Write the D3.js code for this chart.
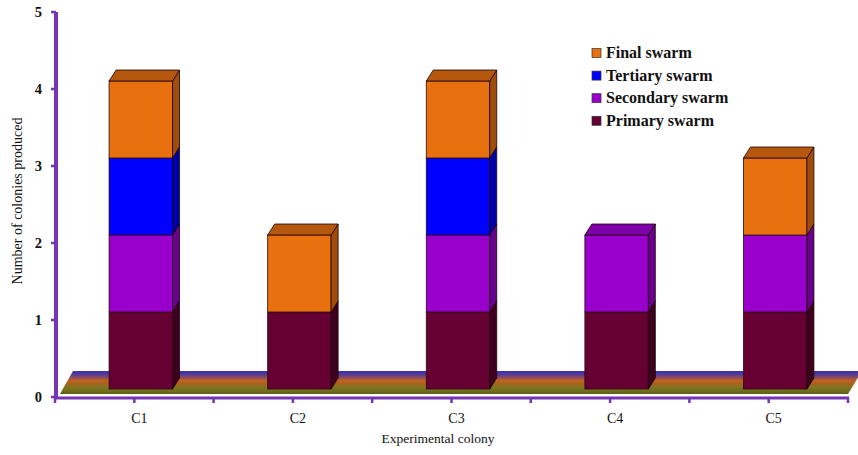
<!DOCTYPE html>
<html>
<head>
<meta charset="utf-8">
<script src="https://cdn.jsdelivr.net/npm/d3@7"></script>
<style>
  html, body { margin: 0; padding: 0; background: #fff; }
  svg { display: block; }
  text { font-family: "Liberation Serif", "Times New Roman", serif; fill: #111; }
</style>
</head>
<body>
<svg id="chart" width="858" height="455"></svg>
<script>
// Colonies produced by each experimental colony, per swarm type
const categories = ["C1", "C2", "C3", "C4", "C5"];
const seriesNames = ["Primary swarm", "Secondary swarm", "Tertiary swarm", "Final swarm"];
const primary   = [1, 1, 1, 1, 1];
const secondary = [1, 0, 1, 1, 1];
const tertiary  = [1, 0, 1, 0, 0];
const final     = [1, 1, 1, 0, 1];
const yTicks = [0, 1, 2, 3, 4, 5];

const faceColors = ["#660033", "#9900CC", "#0000FF", "#E8700F"];
const sideColors = ["#3E001E", "#6A008E", "#0000A8", "#A04C0A"];
const topColors  = ["#52002A", "#7D00AA", "#0000C8", "#B5580E"];

const svg = d3.select("#chart");

const x = d3.scaleBand().domain(categories).range([55, 848])
  .paddingInner(0.6).paddingOuter(0.3);
const y = d3.scaleLinear().domain([0, 5]).range([397, 12]);

// 3D offsets
const dx = 7, dy = 11;       // bar depth
const shiftX = 6.5, shiftY = -8; // front face position inside the floor

const rows = categories.map((c, i) => ({
  cat: c, Primary: primary[i], Secondary: secondary[i], Tertiary: tertiary[i], Final: final[i]
}));
const stack = d3.stack().keys(["Primary", "Secondary", "Tertiary", "Final"])(rows);

// Floor with banded gradient
const defs = svg.append("defs");
const grad = defs.append("linearGradient").attr("id", "floorGrad")
  .attr("x1", 0).attr("y1", 0).attr("x2", 0).attr("y2", 1);
[[0, "#3A2FB0"], [0.12, "#4B38A0"], [0.28, "#8A4A60"], [0.42, "#C0641E"], [0.55, "#A8621E"],
 [0.72, "#7E7420"], [0.88, "#6E6C1C"], [1, "#5E5C1A"]]
  .forEach(([o, c]) => grad.append("stop").attr("offset", o).attr("stop-color", c));

const floorTop = 371, floorBot = 394;
svg.append("path")
  .attr("d", `M60,${floorBot} L848,${floorBot} L862,${floorTop} L73,${floorTop} Z`)
  .attr("fill", "url(#floorGrad)");

// Bars
categories.forEach((c, i) => {
  const x0 = x(c) + shiftX;
  const x1 = x0 + x.bandwidth();
  const segs = stack.map((s, k) => ({ k, lo: s[i][0], hi: s[i][1] })).filter(d => d.hi > d.lo);
  const g = svg.append("g");
  segs.forEach((d, j) => {
    const yb = y(d.lo) + shiftY, yt = y(d.hi) + shiftY;
    g.append("rect").attr("x", x0).attr("y", yt).attr("width", x1 - x0).attr("height", yb - yt)
      .attr("fill", faceColors[d.k]).attr("stroke", "#2a0a14").attr("stroke-width", 0.8);
    g.append("path")
      .attr("d", `M${x1},${yb} L${x1},${yt} L${x1 + dx},${yt - dy} L${x1 + dx},${yb - dy} Z`)
      .attr("fill", sideColors[d.k]).attr("stroke", "#1a0008").attr("stroke-width", 0.8);
    if (j === segs.length - 1) {
      g.append("path")
        .attr("d", `M${x0},${yt} L${x0 + dx},${yt - dy} L${x1 + dx},${yt - dy} L${x1},${yt} Z`)
        .attr("fill", topColors[d.k]).attr("stroke", "#1a0008").attr("stroke-width", 0.8);
    }
  });
});

// Axes
const axisColor = "#7636B4";
svg.append("line").attr("x1", 56).attr("x2", 56).attr("y1", y(5)).attr("y2", 399)
  .attr("stroke", axisColor).attr("stroke-width", 4);
svg.append("line").attr("x1", 54).attr("x2", 849).attr("y1", 398).attr("y2", 398)
  .attr("stroke", axisColor).attr("stroke-width", 3);

// Y ticks and labels
yTicks.forEach(t => {
  svg.append("line").attr("x1", 51).attr("x2", 56).attr("y1", y(t)).attr("y2", y(t))
    .attr("stroke", axisColor).attr("stroke-width", 2.5);
  svg.append("text").attr("x", 42).attr("y", y(t) + 5).attr("text-anchor", "end")
    .attr("font-size", 14.5).attr("font-weight", "bold").text(t);
});

// X ticks: at category centres and boundaries
const step = x.step();
for (let k = 0; k <= 10; k++) {
  const tx = 55 + k * step / 2;
  svg.append("line").attr("x1", tx).attr("x2", tx).attr("y1", 398).attr("y2", 403)
    .attr("stroke", axisColor).attr("stroke-width", 2.5);
}
categories.forEach(c => {
  svg.append("text").attr("x", x(c) + x.bandwidth() / 2 + 5).attr("y", 423)
    .attr("text-anchor", "middle").attr("font-size", 14).text(c);
});

// Axis titles
svg.append("text").attr("x", 438).attr("y", 443).attr("text-anchor", "middle")
  .attr("font-size", 13.5).text("Experimental colony");
svg.append("text").attr("transform", "translate(22,201) rotate(-90)")
  .attr("text-anchor", "middle").attr("font-size", 14).text("Number of colonies produced");

// Legend (top series first)
const legendOrder = [3, 2, 1, 0];
legendOrder.forEach((k, r) => {
  const cy = 53 + r * 22.6;
  svg.append("rect").attr("x", 592).attr("y", cy - 4.5).attr("width", 9).attr("height", 9)
    .attr("fill", faceColors[k]).attr("stroke", "#333").attr("stroke-width", 0.7);
  svg.append("text").attr("x", 606).attr("y", cy + 5).attr("font-size", 16)
    .attr("font-weight", "bold").text(seriesNames[k]);
});
</script>
</body>
</html>
